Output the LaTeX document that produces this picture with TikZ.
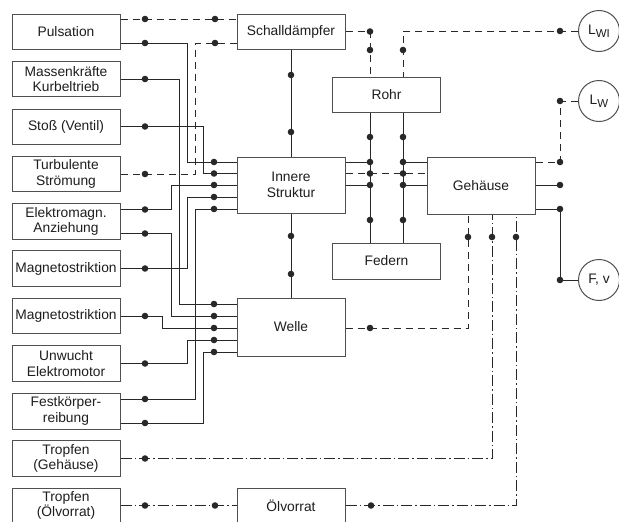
\documentclass[tikz,border=0pt]{standalone}
\usepackage{fontspec}
\setmainfont{Liberation Sans}
\definecolor{ln}{RGB}{40,40,40}
\definecolor{bx}{RGB}{80,80,80}
\definecolor{txt}{RGB}{30,30,30}
\begin{document}
\begin{tikzpicture}[x=1pt,y=-1pt,
  box/.style={draw=bx, line width=1pt, minimum width=108pt, inner sep=0pt, align=center,
    font=\fontsize{13.8}{15.5}\selectfont, text=txt},
  circ/.style={draw=bx, line width=1pt, circle, minimum size=41pt, inner sep=0pt,
    font=\fontsize{13.8}{15.5}\selectfont, text=txt},
  con/.style={draw=ln, line width=1pt},
  dsh/.style={con, dash pattern=on 7pt off 5pt},
  dd/.style={con, dash pattern=on 11pt off 3pt on 1.5pt off 3pt}]
\useasboundingbox (0,0) rectangle (619,522);
\clip (0,0) rectangle (619,522);
\fill[white] (0,0) rectangle (619,522);

% left column
\node[box, minimum height=35pt] (pul) at (66,31.5) {Pulsation};
\node[box, minimum height=35pt] (mas) at (66,79) {Massenkräfte\\Kurbeltrieb};
\node[box, minimum height=35pt] (sto) at (66,126.5) {Stoß (Ventil)};
\node[box, minimum height=35pt] (tur) at (66,174) {Turbulente\\Strömung};
\node[box, minimum height=35.5pt] (ele) at (66,221.5) {Elektromagn.\\Anziehung};
\node[box, minimum height=35.5pt] (mg1) at (66,268.5) {Magnetostriktion};
\node[box, minimum height=35.5pt] (mg2) at (66,316) {Magnetostriktion};
\node[box, minimum height=36pt] (unw) at (66,363.5) {Unwucht\\Elektromotor};
\node[box, minimum height=36pt] (fes) at (66,411) {Festkörper-\\reibung};
\node[box, minimum height=36pt] (trg) at (66,458.5) {Tropfen\\(Gehäuse)};
\node[box, minimum height=35pt] (tro) at (66,505.5) {Tropfen\\(Ölvorrat)};

% middle column
\node[box, minimum height=35pt] (sd) at (291,31.5) {Schalldämpfer};
\node[box, minimum height=56pt] (in) at (291,185) {Innere\\Struktur};
\node[box, minimum height=58pt] (we) at (291,327) {Welle};
\node[box, minimum height=35pt] (ol) at (291,505.5) {Ölvorrat};

% right part
\node[box, minimum height=35pt] (ro) at (386.5,94.5) {Rohr};
\node[box, minimum height=36pt] (fe) at (386.5,261) {Federn};
\node[box, minimum height=57pt] (ge) at (481,185.5) {Gehäuse};
\node[circ] (lwi) at (599,31) {L\raisebox{-3pt}{\fontsize{11.5}{11.5}\selectfont WI}};
\node[circ] (lw) at (599,101) {L\raisebox{-3pt}{\fontsize{11.5}{11.5}\selectfont W}};
\node[circ] (fv) at (599,280) {F, v};

% inputs to Schalldaempfer / Innere Struktur / Welle
\draw[dsh] (pul.east |- 0,19) -- (sd.west |- 0,19);
\draw[dsh] (sd.west |- 0,43) -| (195,174) -- (tur.east);
\draw[con] (pul.east |- 0,43) -| (187,162) -- (in.west |- 0,162);
\draw[con] (mas.east) -| (179,304) -- (we.west |- 0,304);
\draw[con] (sto.east) -| (203,173.5) -- (in.west |- 0,173.5);
\draw[con] (ele.east |- 0,209.5) -| (171,185) -- (in.west |- 0,185);
\draw[con] (ele.east |- 0,233.5) -| (171,316) -- (we.west |- 0,316);
\draw[con] (mg1.east) -| (187,197) -- (in.west |- 0,197);
\draw[con] (mg2.east) -| (162,328) -- (we.west |- 0,328);
\draw[con] (unw.east) -| (187,340) -- (we.west |- 0,340);
\draw[con] (fes.east |- 0,399) -| (195,209) -- (in.west |- 0,209);
\draw[con] (fes.east |- 0,423) -| (203,352) -- (we.west |- 0,352);
\draw[dd] (tro.east) -- (ol.west);
\draw[dd] (trg.east) -| (ge.south -| 492,0);
\draw[dd] (ol.east) -| (ge.south -| 516,0);
\draw[dsh] (we.east |- 0,328) -| (ge.south -| 468,0);

% vertical links
\draw[con] (sd.south) -- (in.north);
\draw[con] (in.south) -- (we.north);
\draw[dsh] (sd.east) -| (ro.north -| 370,0);
\draw[dsh] (lwi.west) -| (ro.north -| 403,0);
\draw[con] (ro.south -| 370,0) -- (fe.north -| 370,0);
\draw[con] (ro.south -| 403,0) -- (fe.north -| 403,0);

% Innere Struktur -> Gehaeuse
\draw[con] (in.east |- 0,162) -- (370,162);
\draw[con] (403,162) -- (ge.west |- 0,162);
\draw[dsh] (in.east |- 0,173.5) -- (ge.west |- 0,173.5);
\draw[con] (in.east |- 0,185) -- (370,185);
\draw[con] (403,185) -- (ge.west |- 0,185);

% Gehaeuse outputs
\draw[dsh] (ge.east |- 0,162) -| (560,101) -- (lw.west);
\draw[con] (ge.east |- 0,185) -- (560,185);
\draw[con] (ge.east |- 0,209) -| (560,280) -- (fv.west);

% dots
\foreach \p in {(145,19),(215,19),(145,43),(215,43),(145,79),(145,126.5),(145,174),
  (145,209.5),(145,233.5),(145,268.5),(145,316),(145,363.5),(145,399),(145,423),
  (145,458.5),(145,505.5),(215,505.5),
  (214,162),(214,173.5),(214,185),(214,197),(214,209),
  (214,304),(214,316),(214,328),(214,340),(214,352),
  (291,75),(291,132),(291,236),(291,274),
  (370,31.5),(370,50),(403,50),(560,31),
  (370,137),(403,137),(370,162),(370,173.5),(370,185),(403,162),(403,173.5),(403,185),
  (370,220),(403,220),
  (560,101),(560,162),(560,185),(560,209),(560,280),
  (468,237),(492,237),(516,237),(370,328),(371,505.5)}
  \fill[ln] \p circle (3.3pt);
\end{tikzpicture}
\end{document}
